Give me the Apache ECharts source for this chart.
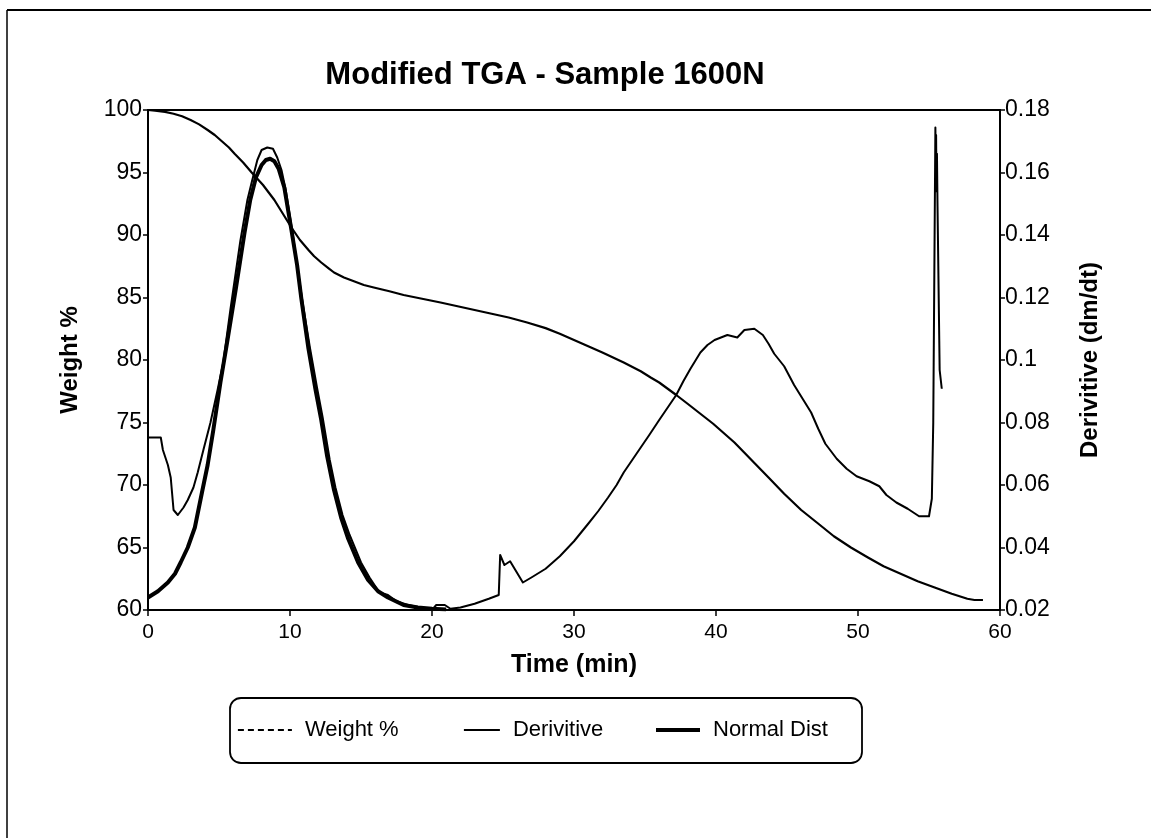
<!DOCTYPE html>
<html>
<head>
<meta charset="utf-8">
<script src="https://cdn.jsdelivr.net/npm/echarts@6/dist/echarts.min.js"></script>
<style>
html,body{margin:0;padding:0;background:#fff;}
#c{width:1151px;height:838px;}
</style>
</head>
<body>
<div id="c"></div>
<script>
// ---- data ----
const xTicks = [0, 10, 20, 30, 40, 50, 60];
const weightTicks = [60, 65, 70, 75, 80, 85, 90, 95, 100];
const derivTicks = [0.02, 0.04, 0.06, 0.08, 0.1, 0.12, 0.14, 0.16, 0.18];

const weightTime = [0, 0.5, 1.2, 1.8, 2.4, 3.0, 3.6, 4.2, 4.7, 5.2, 5.7, 6.1, 6.7, 7.3, 7.7, 8.1, 8.5, 8.9, 9.5, 10.1, 10.7, 11.3, 11.7, 12.2, 12.7, 13.1, 13.8, 14.5, 15.2, 15.9, 17.0, 18.0, 19.3, 20.6, 21.8, 23.0, 24.2, 25.4, 26.7, 28.0, 29.0, 30.0, 31.0, 32.0, 33.5, 34.7, 35.4, 36.0, 36.6, 37.2, 38.0, 38.9, 39.8, 40.6, 41.3, 42.5, 43.7, 44.8, 46.0, 47.1, 48.3, 49.5, 50.7, 51.8, 53.0, 54.2, 55.4, 56.6, 57.7, 58.2, 58.8];
const weightPct = [100, 99.95, 99.85, 99.7, 99.5, 99.2, 98.85, 98.4, 98.0, 97.5, 97.0, 96.5, 95.8, 95.0, 94.5, 94.0, 93.4, 92.8, 91.7, 90.6, 89.6, 88.8, 88.3, 87.8, 87.35, 87.0, 86.6, 86.3, 86.0, 85.8, 85.5, 85.2, 84.9, 84.6, 84.3, 84.0, 83.7, 83.4, 83.0, 82.55, 82.1, 81.6, 81.1, 80.6, 79.8, 79.1, 78.6, 78.2, 77.7, 77.2, 76.5, 75.7, 74.9, 74.1, 73.4, 72.0, 70.6, 69.3, 68.0, 67.0, 65.9, 65.0, 64.2, 63.5, 62.9, 62.3, 61.8, 61.3, 60.9, 60.8, 60.8];

const derivTime = [0, 0.9, 1.05, 1.4, 1.6, 1.8, 2.1, 2.5, 2.8, 3.2, 3.5, 3.9, 4.4, 4.9, 5.3, 5.8, 6.5, 7.0, 7.3, 7.7, 8.0, 8.4, 8.8, 9.1, 9.4, 9.7, 10.2, 10.6, 10.9, 11.4, 11.9, 12.3, 12.8, 13.2, 13.7, 14.2, 15.0, 15.6, 16.3, 16.9, 17.5, 18.3, 19.2, 20.0, 20.3, 20.9, 21.3, 22.0, 23.0, 24.0, 24.7, 24.8, 25.1, 25.5, 26.4, 27.0, 28.0, 29.0, 30.0, 31.0, 31.7, 32.4, 33.0, 33.5, 34.1, 34.7, 35.3, 36.0, 36.6, 37.2, 37.7, 38.2, 38.9, 39.4, 39.9, 40.8, 41.5, 42.0, 42.7, 43.3, 43.7, 44.1, 44.8, 45.5, 46.1, 46.7, 47.2, 47.7, 48.5, 49.2, 49.9, 50.8, 51.5, 52.0, 52.7, 53.5, 54.3, 55.0, 55.2, 55.3, 55.45, 55.48, 55.5, 55.53, 55.56, 55.6, 55.7, 55.75, 55.9];
const derivValue = [0.0752, 0.0752, 0.0712, 0.0664, 0.0624, 0.052, 0.0504, 0.0528, 0.0552, 0.0592, 0.064, 0.0712, 0.08, 0.0904, 0.0992, 0.116, 0.138, 0.1512, 0.1568, 0.164, 0.1672, 0.168, 0.1676, 0.1648, 0.1608, 0.1544, 0.14, 0.1272, 0.118, 0.104, 0.0912, 0.0816, 0.068, 0.0592, 0.0504, 0.044, 0.0352, 0.0304, 0.0256, 0.0248, 0.0228, 0.0216, 0.0208, 0.02, 0.0216, 0.0216, 0.0204, 0.0208, 0.022, 0.0236, 0.0248, 0.0376, 0.0344, 0.0356, 0.0288, 0.0304, 0.0332, 0.0372, 0.042, 0.0476, 0.0516, 0.056, 0.06, 0.064, 0.068, 0.072, 0.076, 0.0808, 0.0848, 0.0888, 0.0932, 0.0972, 0.1024, 0.1048, 0.1064, 0.108, 0.1072, 0.1096, 0.11, 0.108, 0.1052, 0.102, 0.098, 0.092, 0.0876, 0.0832, 0.078, 0.0732, 0.0684, 0.0652, 0.0628, 0.0612, 0.0596, 0.0568, 0.0544, 0.0524, 0.05, 0.05, 0.0556, 0.08, 0.1744, 0.158, 0.172, 0.154, 0.166, 0.1492, 0.1492, 0.0968, 0.0908];

const normalTime = [0, 0.7, 1.4, 1.9, 2.3, 2.8, 3.3, 3.8, 4.2, 4.6, 5.1, 5.6, 6.2, 6.8, 7.2, 7.6, 8.0, 8.3, 8.6, 8.9, 9.2, 9.6, 10.1, 10.5, 10.8, 11.3, 11.8, 12.2, 12.6, 13.1, 13.6, 14.1, 14.8, 15.5, 16.2, 16.9, 18.0, 19.0, 20.0, 21.0];
const normalValue = [0.024, 0.026, 0.0288, 0.0316, 0.0352, 0.04, 0.0464, 0.0576, 0.0664, 0.0776, 0.0928, 0.1064, 0.1232, 0.1408, 0.1512, 0.1584, 0.1624, 0.164, 0.1644, 0.1636, 0.1612, 0.1552, 0.1416, 0.1304, 0.1196, 0.1036, 0.0904, 0.0808, 0.0696, 0.0584, 0.0496, 0.0428, 0.0352, 0.0296, 0.026, 0.024, 0.0216, 0.0208, 0.0204, 0.0202];

const titleText = 'Modified TGA - Sample 1600N';
const seriesNames = ['Weight %', 'Derivitive', 'Normal Dist'];

// ---- chart ----
const FONT = "'Liberation Sans', Arial, Helvetica, sans-serif";
const pair = (xs, ys) => xs.map((x, i) => [x, ys[i]]);

const chart = echarts.init(document.getElementById('c'), null, {renderer: 'canvas'});
const hiddenMark = {color: 'rgba(0,0,0,0)', borderWidth: 0, borderColor: 'rgba(0,0,0,0)', opacity: 0};
const legendBase = (left, name, width, lineStyle) => ({
  left: left, top: 719, padding: 0, orient: 'horizontal',
  itemWidth: width, itemHeight: 14,
  itemStyle: hiddenMark,
  data: [{name: name, lineStyle: lineStyle, itemStyle: hiddenMark}],
  textStyle: {fontFamily: FONT, fontSize: 22, color: '#000', padding: [0, 0, 0, 8]},
  selectedMode: false
});

chart.setOption({
  backgroundColor: '#fff',
  animation: false,
  textStyle: {fontFamily: FONT},
  graphic: [
    {type: 'line', shape: {x1: 7, y1: 10, x2: 1151, y2: 10}, style: {stroke: '#000', lineWidth: 2}},
    {type: 'line', shape: {x1: 7, y1: 10, x2: 7, y2: 838}, style: {stroke: '#000', lineWidth: 1.5}},
    {type: 'text', x: 545, y: 75, style: {text: titleText, font: "bold 31px 'Liberation Sans', Arial, sans-serif", fill: '#000', textAlign: 'center', textVerticalAlign: 'middle'}},
    {type: 'rect', shape: {x: 230, y: 698, width: 632, height: 65, r: 11}, style: {fill: 'none', stroke: '#000', lineWidth: 1.8}}
  ],
  legend: [
    legendBase(237, seriesNames[0], 54, {type: [6, 4], width: 1.8, color: '#000'}),
    legendBase(463, seriesNames[1], 36, {width: 1.8, color: '#000'}),
    legendBase(654, seriesNames[2], 44, {width: 4, color: '#000'})
  ],
  grid: {left: 148, right: 151, top: 110, bottom: 228, show: true, borderColor: '#000', borderWidth: 2, backgroundColor: 'transparent'},
  xAxis: {
    type: 'value', min: xTicks[0], max: xTicks[xTicks.length - 1], interval: 10,
    name: 'Time (min)', nameLocation: 'middle', nameGap: 43,
    nameTextStyle: {fontFamily: FONT, fontSize: 25, fontWeight: 'bold', color: '#000'},
    axisLine: {lineStyle: {color: '#000', width: 2}},
    axisTick: {show: true, length: 6, lineStyle: {color: '#000', width: 1.5}},
    axisLabel: {fontFamily: FONT, fontSize: 21, color: '#000', margin: 12},
    splitLine: {show: false}
  },
  yAxis: [
    {
      type: 'value', position: 'left', min: weightTicks[0], max: weightTicks[weightTicks.length - 1], interval: 5,
      name: 'Weight %', nameLocation: 'middle', nameGap: 66, nameRotate: 90,
      nameTextStyle: {fontFamily: FONT, fontSize: 24, fontWeight: 'bold', color: '#000'},
      axisLine: {show: true, lineStyle: {color: '#000', width: 2}},
      axisTick: {show: true, length: 5, lineStyle: {color: '#000', width: 1.5}},
      axisLabel: {fontFamily: FONT, fontSize: 23, color: '#000', margin: 6},
      splitLine: {show: false}
    },
    {
      type: 'value', position: 'right', min: derivTicks[0], max: derivTicks[derivTicks.length - 1], interval: 0.02,
      name: 'Derivitive (dm/dt)', nameLocation: 'middle', nameGap: 78, nameRotate: 90,
      nameTextStyle: {fontFamily: FONT, fontSize: 24, fontWeight: 'bold', color: '#000'},
      axisLine: {show: true, lineStyle: {color: '#000', width: 2}},
      axisTick: {show: true, length: 5, lineStyle: {color: '#000', width: 1.5}},
      axisLabel: {fontFamily: FONT, fontSize: 23, color: '#000', margin: 5},
      splitLine: {show: false}
    }
  ],
  series: [
    {
      name: seriesNames[0], type: 'line', yAxisIndex: 0, symbol: 'none',
      data: pair(weightTime, weightPct),
      lineStyle: {color: '#000', width: 2.2, join: 'round'}, itemStyle: {color: '#000'}, z: 3
    },
    {
      name: seriesNames[2], type: 'line', yAxisIndex: 1, symbol: 'none',
      data: pair(normalTime, normalValue),
      lineStyle: {color: '#000', width: 4, join: 'round'}, itemStyle: {color: '#000'}, z: 2
    },
    {
      name: seriesNames[1], type: 'line', yAxisIndex: 1, symbol: 'none',
      data: pair(derivTime, derivValue),
      lineStyle: {color: '#000', width: 2, join: 'round'}, itemStyle: {color: '#000'}, z: 4
    }
  ]
});
</script>
</body>
</html>
